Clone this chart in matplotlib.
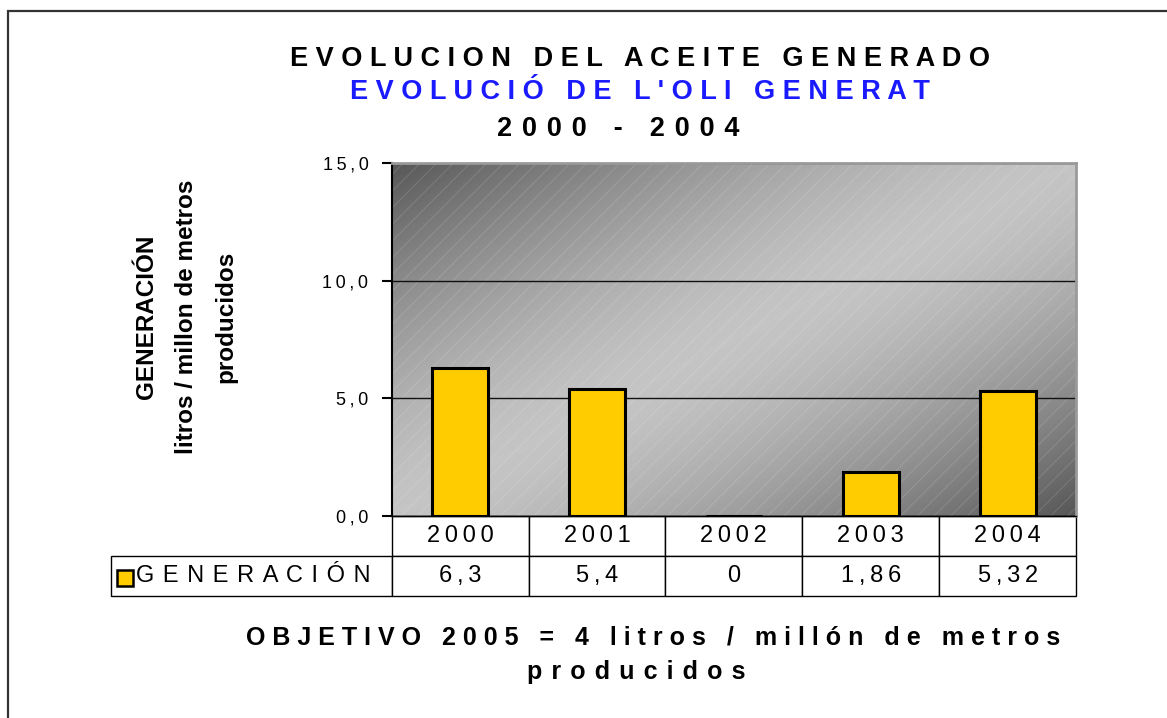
import numpy as np
import matplotlib
matplotlib.use('Agg')
import matplotlib.pyplot as plt
from matplotlib.patches import Rectangle
from matplotlib.table import Table


years = ['2000', '2001', '2002', '2003', '2004']
generacion = [6.3, 5.4, 0, 1.86, 5.32]
generacion_labels = ['6,3', '5,4', '0', '1,86', '5,32']
series_name = 'GENERACIÓN'
y_ticks = [0, 5, 10, 15]
y_tick_labels = ['0,0', '5,0', '10,0', '15,0']

title_lines = ['EVOLUCION DEL ACEITE GENERADO', "EVOLUCIÓ DE L'OLI GENERAT", '2000 - 2004']
y_label = 'GENERACIÓN\nlitros / millon de metros\nproducidos'
footer_lines = ['OBJETIVO 2005 = 4 litros / millón de metros', 'producidos']

BAR_COLOR = '#ffcc00'
TITLE_BLUE = '#1a1aff'


def spaced(text, gap):
    # emulate the wide letter spacing of the original
    words = text.split(' ')
    return (gap + ' ' + gap).join(gap.join(w) for w in words)


plt.rcParams['font.family'] = ['Liberation Sans', 'DejaVu Sans']
plt.rcParams['hatch.linewidth'] = 0.6

W, H = 1167, 718
fig = plt.figure(figsize=(W / 100, H / 100), dpi=100)

# outer frame (open on the right and bottom)
fig.add_artist(Rectangle((8 / W, -0.05), 1.1, 1.05 - 11.5 / H,
                         transform=fig.transFigure, facecolor='none',
                         edgecolor='#333333', lw=1.6))

# titles
fig.text(0.548, 0.918, spaced(title_lines[0], ' '), ha='center', va='center',
         fontsize=19.5, fontweight='bold', color='black')
fig.text(0.548, 0.872, spaced(title_lines[1], ' '), ha='center', va='center',
         fontsize=19.5, fontweight='bold', color=TITLE_BLUE)
fig.text(0.530, 0.8205, spaced(title_lines[2], ' \u200a'), ha='center', va='center',
         fontsize=19.5, fontweight='bold', color='black')

fig.text(0.1595, 0.5585, y_label, rotation=90, ha='center', va='center',
         multialignment='center', fontsize=17.5, fontweight='bold', linespacing=1.95)

fig.text(0.56, 0.1128, spaced(footer_lines[0], ' '), ha='center', va='center',
         fontsize=18, fontweight='bold')
fig.text(0.545, 0.064, spaced(footer_lines[1], ' \u200a'), ha='center', va='center',
         fontsize=18, fontweight='bold')

# plot area
ax = fig.add_axes([392 / W, (H - 516) / H, 684 / W, 353 / H])
x = np.arange(len(years))
ax.set_xlim(-0.5, len(years) - 0.5)
ax.set_ylim(y_ticks[0], y_ticks[-1])
ax.patch.set_facecolor('none')

# diagonal grey gradient background
u, w = np.meshgrid(np.linspace(0, 1, 300), np.linspace(0, 1, 160))
t = (u + w) / 2
light, dark = 0.77, 0.34
grad = light - (light - dark) * np.abs(2 * t - 1) ** 1.5
ax.imshow(grad, cmap='gray', vmin=0, vmax=1, extent=[-0.5, len(years) - 0.5, y_ticks[0], y_ticks[-1]],
          origin='upper', aspect='auto', interpolation='bilinear', zorder=0)
ax.add_patch(Rectangle((0, 0), 1, 1, transform=ax.transAxes, facecolor='none',
                       edgecolor=(1, 1, 1, 0.16), lw=0, hatch='//', zorder=0.2))

ax.set_axisbelow(True)
ax.yaxis.grid(True, color='#111111', lw=1)

ax.bar(x, generacion, width=0.41, color=BAR_COLOR, edgecolor='black', lw=2.2, zorder=3)

ax.set_yticks(y_ticks)
ax.set_yticklabels([spaced(s, '\u2009') for s in y_tick_labels])
ax.set_xticks([])
ax.tick_params(axis='y', direction='out', length=7, width=1.5, pad=10, labelsize=13)

ax.spines['left'].set_color('black')
ax.spines['left'].set_linewidth(1.5)
for side in ['top', 'right']:
    ax.spines[side].set_color('#9a9a9a')
    ax.spines[side].set_linewidth(2)
ax.spines['bottom'].set_color('black')
ax.spines['bottom'].set_linewidth(1)

# data table below the plot; column 0 holds the row label
tb = Table(ax, bbox=[(111 - 392) / 684, -80 / 353, 965 / 684, 80 / 353])
tb.add_cell(0, 0, width=281 / 137, height=1, text='', facecolor='none')
tb.add_cell(1, 0, width=281 / 137, height=1, text=spaced(series_name, ' \u200a'), loc='left',
            facecolor='white')
for j, yr in enumerate(years):
    tb.add_cell(0, j + 1, width=1, height=1, text=spaced(yr, '\u2009'), loc='center',
                facecolor='white')
    tb.add_cell(1, j + 1, width=1, height=1, text=spaced(generacion_labels[j], '\u2009'),
                loc='center', facecolor='white')
tb.auto_set_font_size(False)
tb.set_fontsize(17)
for cell in tb.get_celld().values():
    cell.set_edgecolor('black')
    cell.set_linewidth(1)
    cell.PAD = 0.09
tb[0, 0].visible_edges = ''
ax.add_table(tb)

# legend key inside the table row label
ax.add_patch(Rectangle((-0.402, -0.198), 0.0234, 0.045, transform=ax.transAxes,
                       facecolor=BAR_COLOR, edgecolor='black', lw=1.8, clip_on=False,
                       zorder=5))

fig.savefig('out.png', dpi=100)
